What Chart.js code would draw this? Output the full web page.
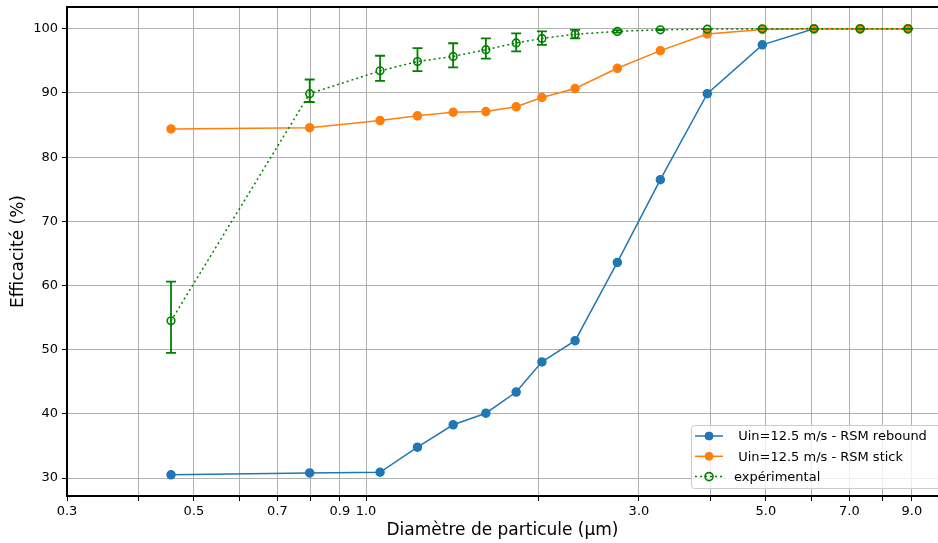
<!DOCTYPE html>
<html>
<head>
<meta charset="utf-8">
<script src="https://cdn.jsdelivr.net/npm/chart.js@4.4.1/dist/chart.umd.min.js"></script>
<style>
html, body { margin: 0; padding: 0; background: #fff; overflow: hidden; }
#wrap { width: 938px; height: 543px; }
</style>
</head>
<body>
<div id="wrap"><canvas id="efficaciteChart" width="938" height="543"></canvas></div>
<script>
// diametres en µm
const diametres = [0.456, 0.797, 1.058, 1.23, 1.42, 1.62, 1.83, 2.03, 2.32, 2.75, 3.27, 3.95, 4.93, 6.07, 7.31, 8.86];
const rebound = [30.5, 30.8, 30.9, 34.8, 38.3, 40.1, 43.4, 48.1, 51.4, 63.6, 76.5, 89.9, 97.5, 100, 100, 100];
const stick = [84.4, 84.6, 85.7, 86.45, 87.0, 87.1, 87.85, 89.3, 90.7, 93.85, 96.6, 99.2, 99.9, 100, 100, 100];
const experimental = [54.5, 89.9, 93.45, 94.9, 95.7, 96.75, 97.8, 98.5, 99.15, 99.6, 99.85, 99.95, 100, 100, 100, 100];
const expBas = [49.5, 88.6, 91.9, 93.4, 94.0, 95.35, 96.5, 97.5, 98.5, 99.4, 99.8, 99.95, 100, 100, 100, 100];
const expHaut = [60.6, 92.1, 95.8, 97.0, 97.75, 98.5, 99.3, 99.6, 99.85, 99.8, 99.9, 99.95, 100, 100, 100, 100];

const xGrille = [0.3, 0.4, 0.5, 0.6, 0.7, 0.8, 0.9, 1, 2, 3, 4, 5, 6, 7, 8, 9];
const xLabels = {0.3: '0.3', 0.5: '0.5', 0.7: '0.7', 0.9: '0.9', 1: '1.0', 3: '3.0', 5: '5.0', 7: '7.0', 9: '9.0'};
const yTicks = [30, 40, 50, 60, 70, 80, 90, 100];

Chart.defaults.font.family = 'DejaVu Sans';
Chart.defaults.color = '#000';

function points(ys) {
    return diametres.map((d, i) => ({x: d, y: ys[i]}));
}

// barres d'erreur de l'experimental
const errorBars = {
    id: 'errorBars',
    afterDatasetsDraw(chart) {
        const ctx = chart.ctx;
        const xs = chart.scales.x, ys = chart.scales.y;
        ctx.save();
        ctx.strokeStyle = 'green';
        ctx.lineWidth = 1.8;
        for (let i = 0; i < diametres.length; i++) {
            const px = xs.getPixelForValue(diametres[i]);
            const lo = ys.getPixelForValue(expBas[i]);
            const hi = ys.getPixelForValue(expHaut[i]);
            ctx.beginPath();
            ctx.moveTo(px, lo); ctx.lineTo(px, hi);
            ctx.moveTo(px - 5, lo); ctx.lineTo(px + 5, lo);
            ctx.moveTo(px - 5, hi); ctx.lineTo(px + 5, hi);
            ctx.stroke();
        }
        ctx.restore();
    }
};

// cadre noir (haut, gauche, bas) + legende facon matplotlib
const cadre = {
    id: 'cadre',
    afterDraw(chart) {
        const ctx = chart.ctx;
        const a = chart.chartArea;
        ctx.save();
        ctx.strokeStyle = '#000';
        ctx.lineWidth = 2;
        ctx.beginPath();
        ctx.moveTo(chart.width, a.top);
        ctx.lineTo(a.left, a.top);
        ctx.lineTo(a.left, a.bottom);
        ctx.lineTo(chart.width, a.bottom);
        ctx.stroke();

        const lx = 691, ly = 425, lw = 252, lh = 63;
        ctx.fillStyle = 'rgba(255,255,255,0.8)';
        ctx.strokeStyle = '#cccccc';
        ctx.lineWidth = 1;
        ctx.beginPath();
        ctx.roundRect(lx + 0.5, ly + 0.5, lw, lh, 3);
        ctx.fill();
        ctx.stroke();

        chart.data.datasets.forEach((ds, i) => {
            const y = 436 + i * 20.3;
            ctx.strokeStyle = ds.borderColor;
            ctx.lineWidth = ds.borderWidth;
            ctx.setLineDash(ds.borderDash || []);
            ctx.beginPath();
            ctx.moveTo(695, y); ctx.lineTo(723, y);
            ctx.stroke();
            ctx.setLineDash([]);
            ctx.beginPath();
            ctx.arc(709, y, 4, 0, Math.PI * 2);
            ctx.fillStyle = ds.backgroundColor;
            ctx.fill();
            ctx.lineWidth = ds.pointBorderWidth || 1;
            ctx.stroke();
            ctx.fillStyle = '#000';
            ctx.font = '13px "DejaVu Sans"';
            ctx.textBaseline = 'middle';
            ctx.fillText(ds.label, 734, y + 1);
        });
        ctx.restore();
    }
};

const data = {
    datasets: [{
        label: ' Uin=12.5 m/s - RSM rebound',
        data: points(rebound),
        borderColor: '#1f77b4',
        backgroundColor: '#1f77b4',
        borderWidth: 1.5,
        pointRadius: 4,
        pointHoverRadius: 4,
        order: 3
    }, {
        label: ' Uin=12.5 m/s - RSM stick',
        data: points(stick),
        borderColor: '#ff7f0e',
        backgroundColor: '#ff7f0e',
        borderWidth: 1.5,
        pointRadius: 4,
        pointHoverRadius: 4,
        order: 2
    }, {
        label: 'expérimental',
        data: points(experimental),
        borderColor: 'green',
        backgroundColor: 'rgba(0,0,0,0)',
        borderWidth: 1.5,
        borderDash: [2, 3],
        pointRadius: 3.8,
        pointBorderWidth: 1.6,
        pointHoverRadius: 3.8,
        order: 1
    }]
};

const config = {
    type: 'line',
    data: data,
    options: {
        responsive: false,
        animation: false,
        devicePixelRatio: 1,
        layout: { autoPadding: false, padding: { top: 7, right: -3, left: 0, bottom: 0 } },
        plugins: { legend: { display: false }, tooltip: { enabled: false } },
        scales: {
            x: {
                type: 'logarithmic',
                min: 0.3,
                max: 10,
                afterBuildTicks: s => { s.ticks = xGrille.map(v => ({value: v})); },
                afterFit: s => { s.height = 47; s.paddingLeft = 0; s.paddingRight = 0; },
                grid: { color: '#b0b0b0', lineWidth: 1, tickColor: '#000', tickLength: 5 },
                border: { display: false },
                ticks: {
                    autoSkip: false, maxRotation: 0, padding: 3,
                    font: { size: 13 },
                    callback: v => xLabels[v] || ''
                },
                title: {
                    display: true,
                    text: 'Diamètre de particule (µm)',
                    font: { size: 17 },
                    padding: { top: 0, bottom: 2 }
                }
            },
            y: {
                min: 27.2,
                max: 103.4,
                afterBuildTicks: s => { s.ticks = yTicks.map(v => ({value: v})); },
                afterFit: s => { s.width = 67; s.paddingTop = 0; s.paddingBottom = 0; },
                grid: { color: '#b0b0b0', lineWidth: 1, tickColor: '#000', tickLength: 5 },
                border: { display: false },
                ticks: { padding: 4, font: { size: 13 }, callback: v => String(v) },
                title: {
                    display: true,
                    text: 'Efficacité (%)',
                    font: { size: 17 },
                    padding: { top: 8, bottom: 0 }
                }
            }
        }
    },
    plugins: [errorBars, cadre]
};

const efficaciteChart = new Chart(document.getElementById('efficaciteChart'), config);
</script>
</body>
</html>
